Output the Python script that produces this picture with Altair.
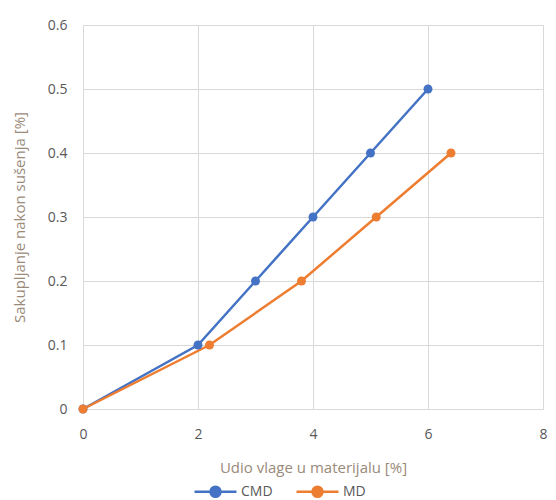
import altair as alt
import pandas as pd

series_names = ["CMD", "MD"]
cmd_x = [0, 2, 3, 4, 5, 6]
cmd_y = [0, 0.1, 0.2, 0.3, 0.4, 0.5]
md_x = [0, 2.2, 3.8, 5.1, 6.4]
md_y = [0, 0.1, 0.2, 0.3, 0.4]
colors = ["#4472C4", "#ED7D31"]
x_ticks = [0, 2, 4, 6, 8]
y_ticks = [0, 0.1, 0.2, 0.3, 0.4, 0.5, 0.6]

rows = []
for i, (xs, ys) in enumerate([(cmd_x, cmd_y), (md_x, md_y)]):
    for k, (a, b) in enumerate(zip(xs, ys)):
        rows.append({"series": series_names[i], "x": a, "y": b, "order": k})
df = pd.DataFrame(rows)

FONT = "Open Sans"
color = alt.Color(
    "series:N",
    scale=alt.Scale(domain=series_names, range=colors),
    legend=alt.Legend(
        orient="none",
        direction="horizontal",
        title=None,
        legendX=110,
        legendY=444,
        symbolType="M-1,0H1M-0.24,0A0.24,0.24 0 1,0 0.24,0A0.24,0.24 0 1,0 -0.24,0Z",
        symbolSize=1764,
        symbolStrokeWidth=2.5,
        labelFontSize=14,
        labelColor="#595959",
        labelFont=FONT,
        columnPadding=18,
        labelOffset=3,
    ),
)

x = alt.X(
    "x:Q",
    scale=alt.Scale(domain=[0, 8], nice=False),
    axis=alt.Axis(
        values=x_ticks,
        title="Udio vlage u materijalu [%]",
        labelPadding=18,
        labelFlush=False,
        titlePadding=19,
    ),
)
y = alt.Y(
    "y:Q",
    scale=alt.Scale(domain=[0, 0.6], nice=False),
    axis=alt.Axis(
        values=y_ticks,
        format=".1~f",
        title="Sakupljanje nakon sušenja [%]",
        labelPadding=16,
        labelFlush=False,
        titlePadding=20,
    ),
)

base = alt.Chart(df).encode(x=x, y=y, color=color, order="order:Q")
lines = base.mark_line(strokeWidth=2.5)
points = base.mark_point(filled=True, size=80, opacity=1)

chart = (
    alt.layer(lines, points)
    .properties(
        width=460,
        height=384,
        autosize=alt.AutoSizeParams(type="none"),
        padding={"left": 75, "top": 17, "right": 5, "bottom": 91},
    )
    .configure_view(stroke=None)
    .configure_axis(
        grid=True,
        gridColor="#d9d9d9",
        domainColor="#d9d9d9",
        ticks=False,
        labelFont=FONT,
        labelFontSize=14,
        labelColor="#595959",
        titleFont=FONT,
        titleFontSize=15,
        titleFontWeight="normal",
        titleColor="#9a8a7a",
    )
)

chart.save("out.html", embed_options={"renderer": "svg", "actions": False})
